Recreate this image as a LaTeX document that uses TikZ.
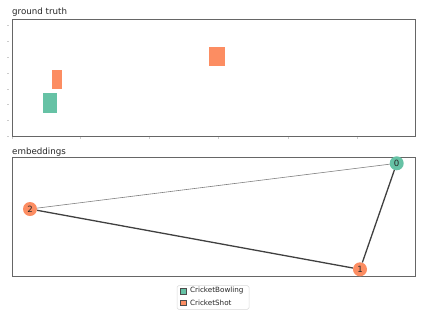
\documentclass[tikz,border=0pt]{standalone}
\usepackage{fontspec}
\setmainfont{DejaVu Sans}
\usetikzlibrary{positioning}

\definecolor{setteal}{HTML}{66C2A5}
\definecolor{setorange}{HTML}{FC8D62}

\begin{document}
\begin{tikzpicture}[
  x=1pt, y=-1pt,
  panel/.style={draw=black!60, line width=0.7pt},
  title/.style={anchor=base west, inner sep=0pt, font=\fontsize{8.7}{10}\selectfont, text=black!85},
  cell/.style={rectangle, draw=white, line width=0.4pt, fill=#1, inner sep=0pt},
  vertex/.style={circle, fill=#1, inner sep=0pt, minimum size=14pt, font=\fontsize{8.6}{9}\selectfont, text=black!85},
  tick/.style={draw=black!20, line width=0.3pt},
  thinedge/.style={draw=black!50, line width=0.6pt},
  thickedge/.style={draw=black!75, line width=1.3pt},
  legmark/.style={rectangle, draw=black!70, fill=#1, line width=0.4pt, minimum size=5.5pt, inner sep=0pt},
  legtext/.style={anchor=west, inner sep=0pt, font=\fontsize{7.2}{8}\selectfont, text=black!85},
]
  \useasboundingbox (0,0) rectangle (423,317);

  % Panel 1: ground truth
  \draw[panel] (12,19) rectangle (415,136);
  \node[title] (gttitle) at (12,14) {ground truth};
  \foreach \ty in {25,41,57,73,89,104,120,136} \draw[tick] (7,\ty) -- (9,\ty);
  \foreach \tx in {12,80,149,218,288,357} \draw[tick] (\tx,137) -- (\tx,139);

  \node[cell=setorange, minimum width=17.6pt, minimum height=20.3pt] (shotA) at (216.5,56) {};
  \node[cell=setorange, minimum width=10.3pt, minimum height=20.7pt] (shotB) at (56.8,79.3) {};
  \node[cell=setteal, minimum width=14.4pt, minimum height=20.7pt] (bowlA) at (49.5,102.7) {};

  % Panel 2: embeddings
  \draw[panel] (12,157.7) rectangle (415,276);
  \node[title] (embtitle) at (12,154) {embeddings};

  \node[vertex=setteal] (v0) at (396.7,163.3) {0};
  \node[vertex=setorange] (v1) at (360,269.3) {1};
  \node[vertex=setorange] (v2) at (30,209) {2};

  \draw[thinedge] (v2) -- (v0);
  \draw[thickedge] (v2) -- (v1);
  \draw[thickedge] (v1) -- (v0);

  % Legend
  \draw[draw=black!15, fill=white, rounded corners=1.5pt, line width=0.5pt] (177,285.7) rectangle (249,309.3);
  \node[legmark=setteal] (keybowl) at (183.3,291) {};
  \node[legmark=setorange, below=5.6pt of keybowl] (keyshot) {};
  \node[legtext, right=3.6pt of keybowl] (labbowl) {CricketBowling};
  \node[legtext, right=3.6pt of keyshot] (labshot) {CricketShot};
\end{tikzpicture}
\end{document}
